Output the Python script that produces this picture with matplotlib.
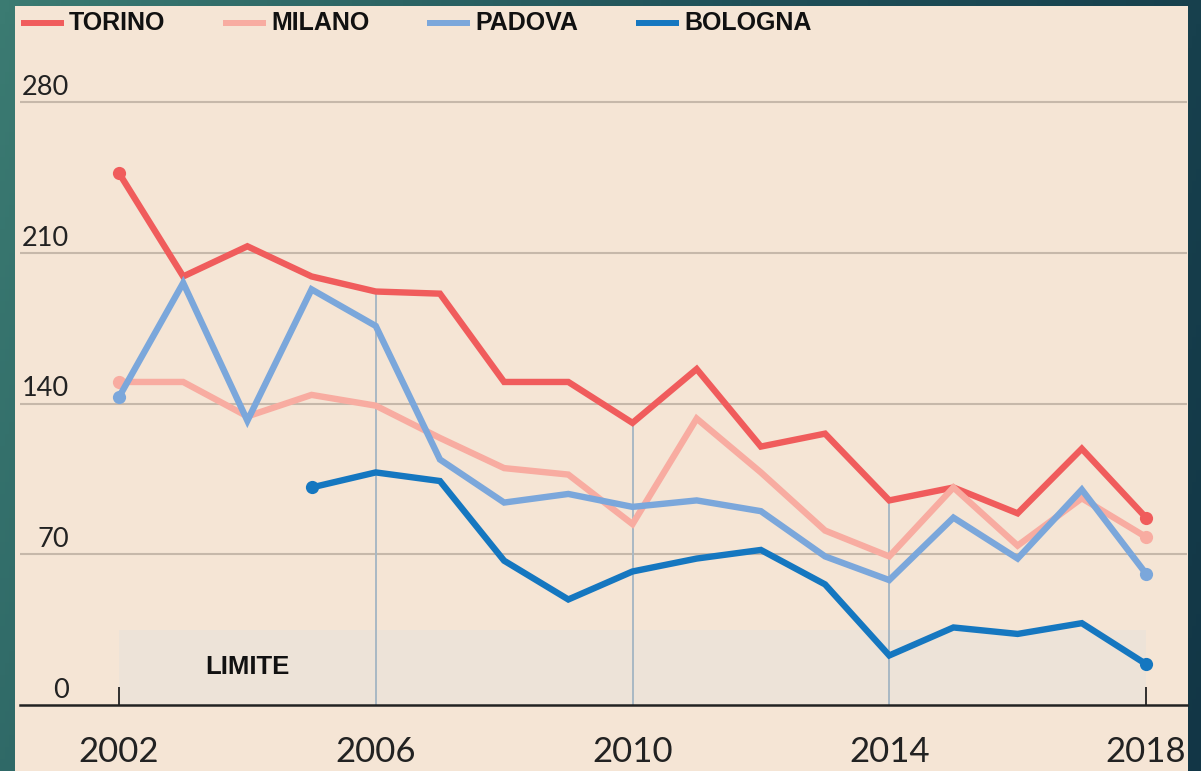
"""Giorni di superamento PM10 per città, 2002-2018, con fascia del limite."""
import matplotlib
matplotlib.use('Agg')
import matplotlib.pyplot as plt
import numpy as np
from matplotlib.colors import LinearSegmentedColormap
from matplotlib.lines import Line2D
from matplotlib.patches import Rectangle
from matplotlib.transforms import blended_transform_factory, offset_copy

# ---- data -------------------------------------------------------------
YEARS = list(range(2002, 2019))
TORINO = [247, 199, 213, 199, 192, 191, 150, 150, 131, 156, 120, 126, 95, 101, 89, 119, 87]
MILANO = [150, 150, 134, 144, 139, 124, 110, 107, 84, 133, 108, 81, 69, 101, 74, 96, 78]
PADOVA = [143, 196, 132, 193, 176, 114, 94, 98, 92, 95, 90, 69, 58, 87, 68, 100, 61]
BOLOGNA = [np.nan, np.nan, np.nan, 101, 108, 104, 67, 49, 62, 68, 72, 56, 23, 36, 33, 38, 19]
LIMITE = 35

CITIES = ['TORINO', 'MILANO', 'PADOVA', 'BOLOGNA']
SERIES = [TORINO, MILANO, PADOVA, BOLOGNA]
COLOURS = ['#f05c5c', '#f8aca1', '#7ba7db', '#1577c0']

Y_TICKS = [0, 70, 140, 210, 280]
X_TICKS_MAJOR = [2002, 2018]
X_TICKS_MINOR = [2006, 2010, 2014]

BEIGE = '#f5e5d5'
W, H = 1201, 771


def px(x, y):
    """Pixel (from top-left) -> figure fraction."""
    return x / W, 1 - y / H


fig = plt.figure(figsize=(W / 100, H / 100), dpi=100)

# teal gradient background
bg = fig.add_axes([0, 0, 1, 1], zorder=-10)
cmap = LinearSegmentedColormap.from_list('bg', ['#3b7b72', '#1f5058', '#123646'])
grad = np.linspace(0, 1, 256)[None, :] + np.linspace(0, 0.25, 64)[:, None]
bg.imshow(grad, aspect='auto', cmap=cmap, extent=[0, 1, 0, 1], vmin=0, vmax=1.25)
bg.axis('off')

# beige panel
x0, y0 = px(15, 771)
x1, y1 = px(1188, 6)
fig.add_artist(Rectangle((x0, y0), x1 - x0, y1 - y0, transform=fig.transFigure,
                         facecolor=BEIGE, edgecolor='none', zorder=-5))

# main axes: 2002 at px 119, 2018 at px 1146; 0 at px 705, 280 at px 102
ppy = (1146 - 119) / 16
ppv = (705 - 102) / 280
left, right = 20, 1187
top = 60
ax = fig.add_axes([left / W, (H - 705) / H, (right - left) / W, (705 - top) / H])
ax.set_facecolor('none')
ax.set_xlim(2002 - (119 - left) / ppy, 2018 + (right - 1146) / ppy)
ax.set_ylim(0, (705 - top) / ppv)

for s in ['top', 'left', 'right']:
    ax.spines[s].set_visible(False)
ax.spines['bottom'].set_color('#222222')
ax.spines['bottom'].set_linewidth(1.8)

# grid
ax.set_yticks(Y_TICKS[1:])
ax.yaxis.grid(True, color='#c6b8aa', linewidth=1.5)
ax.tick_params(axis='y', length=0, labelleft=False)
ax.set_axisbelow(True)

# limit band
ax.add_patch(Rectangle((YEARS[0], 0), YEARS[-1] - YEARS[0], LIMITE,
                       facecolor='#ede3d8', edgecolor='none', zorder=0.5))
ax.text(2004, 14.4, 'LIMITE', ha='center', va='baseline', fontsize=18.5,
        fontweight='bold', family='Liberation Sans', color='#111111', zorder=3)

# vertical guides up to the Torino value
for yr in X_TICKS_MINOR:
    ax.vlines(yr, 0, TORINO[YEARS.index(yr)], color='#a9b8c4', linewidth=1.4, zorder=1)

# series
for vals, col in zip(SERIES, COLOURS):
    arr = np.array(vals, dtype=float)
    ax.plot(YEARS, arr, color=col, linewidth=4.6, solid_joinstyle='miter',
            solid_capstyle='butt', zorder=2)
    idx = np.where(~np.isnan(arr))[0]
    ends = [idx[0], idx[-1]]
    ax.plot([YEARS[i] for i in ends], arr[ends], 'o', color=col, markersize=9.5,
            markeredgewidth=0, zorder=2)

# x ticks
ax.set_xticks(X_TICKS_MAJOR, [str(y) for y in X_TICKS_MAJOR])
ax.set_xticks(X_TICKS_MINOR, [str(y) for y in X_TICKS_MINOR], minor=True)
ax.tick_params(axis='x', which='major', direction='in', length=13, width=1.3,
               color='#222222', pad=22)
ax.tick_params(axis='x', which='minor', length=0, pad=22)
for lab in ax.get_xticklabels(which='both'):
    lab.set_fontsize(25)
    lab.set_family('Lato')
    lab.set_color('#222222')

# y labels, right-aligned inside the panel, just above the grid lines
ytrans = offset_copy(blended_transform_factory(fig.transFigure, ax.transData),
                     fig=fig, y=7, units='dots')
for v in Y_TICKS:
    ax.text(69 / W, v, str(v), transform=ytrans, ha='right', va='baseline',
            fontsize=19.5, family='Lato', color='#222222')

# legend
LEG_X = [21, 223, 427, 636]
for name, col, lx in zip(CITIES, COLOURS, LEG_X):
    a, b = px(lx, 23)
    c, _ = px(lx + 43, 23)
    fig.add_artist(Line2D([a, c], [b, b], transform=fig.transFigure, color=col,
                          linewidth=4.3, solid_capstyle='butt'))
    tx, ty = px(lx + 48, 30)
    fig.text(tx, ty, name, ha='left', va='baseline', fontsize=18,
             fontweight='bold', family='Liberation Sans', color='#111111')

fig.savefig('out.png', dpi=100)
